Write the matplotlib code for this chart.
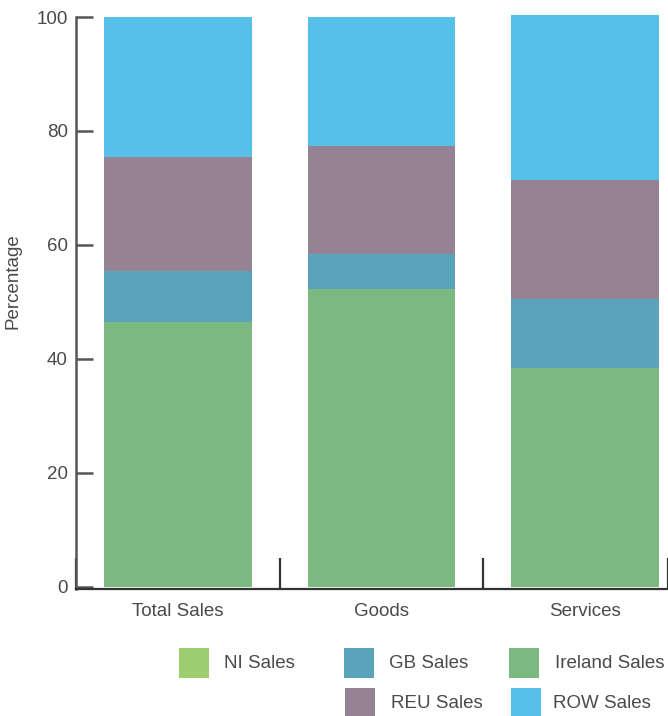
import numpy as np
import matplotlib.pyplot as plt
from matplotlib.patches import Rectangle

plt.rcParams['font.family'] = ['Liberation Sans', 'DejaVu Sans']

# data (percent of sales)
categories = ["Total Sales", "Goods", "Services"]
ni_sales = [0.0, 0.0, 0.0]
ireland_sales = [46.5, 52.3, 38.4]
gb_sales = [8.9, 6.1, 12.1]
reu_sales = [20.0, 19.0, 20.9]
row_sales = [24.6, 22.6, 29.0]
y_ticks = [0, 20, 40, 60, 80, 100]

colors = {
    "NI Sales": "#9ccd6e",
    "GB Sales": "#5aa4bb",
    "Ireland Sales": "#7bb980",
    "REU Sales": "#958292",
    "ROW Sales": "#56c0e8",
}
text_col = "#4a4a4a"
fs = 13.5

fig = plt.figure(figsize=(6.68, 7.16), dpi=100)
W, H = 668, 716
ax = fig.add_axes([76 / W, 127 / H, (668 - 76) / W, (589 - 13.6) / H])

x = np.arange(len(categories))
bottom = np.zeros(len(categories))
stack = [("NI Sales", ni_sales), ("Ireland Sales", ireland_sales),
         ("GB Sales", gb_sales), ("REU Sales", reu_sales), ("ROW Sales", row_sales)]
for name, vals in stack:
    ax.bar(x, vals, width=0.725, bottom=bottom, color=colors[name], linewidth=0)
    bottom += np.array(vals)

ax.set_xlim(-0.5, 2.407)
ax.set_ylim(-0.4, 100.6)

for s in ["top", "right"]:
    ax.spines[s].set_visible(False)
ax.spines["left"].set_bounds(-0.4, 100)
ax.spines["left"].set_color("#555555")
ax.spines["left"].set_linewidth(1.8)
ax.spines["bottom"].set_color("#333333")
ax.spines["bottom"].set_linewidth(1.6)

ax.set_yticks(y_ticks)
ax.tick_params(axis="y", direction="in", length=12, width=1.8, color="#555555",
               labelsize=fs, labelcolor=text_col, pad=6)

ax.set_xticks(x)
ax.set_xticklabels(categories)
ax.tick_params(axis="x", which="major", length=0, labelsize=fs, labelcolor=text_col, pad=10)
ax.set_xticks([-0.5, 0.5, 1.5, 2.407], minor=True)
ax.tick_params(axis="x", which="minor", direction="in", length=22, width=1.6, color="#333333")

ax.set_ylabel("Percentage", fontsize=fs, color=text_col)
ax.yaxis.set_label_coords(-(76 - 22) / (668 - 76), 0.535)

# legend laid out by hand: row 1 NI, GB, Ireland; row 2 REU, ROW
legend_items = [
    ("NI Sales", 179, 224, 663),
    ("GB Sales", 344, 389, 663),
    ("Ireland Sales", 509, 555, 663),
    ("REU Sales", 345, 391, 703),
    ("ROW Sales", 511, 553, 703),
]
for name, px, tx, yc in legend_items:
    fig.add_artist(Rectangle((px / W, (H - yc - 15) / H), 30 / W, 30 / H,
                             transform=fig.transFigure, color=colors[name], lw=0))
    fig.text(tx / W, (H - yc) / H, name, fontsize=fs, color=text_col, va="center", ha="left")

fig.savefig("out.png", dpi=100)
